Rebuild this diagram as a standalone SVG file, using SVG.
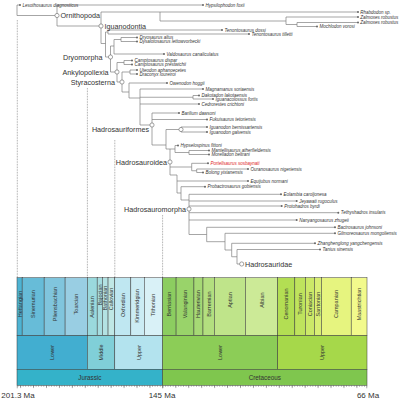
<svg xmlns="http://www.w3.org/2000/svg" width="400" height="400" viewBox="0 0 400 400">
<style>
.br{fill:none;stroke:#808080;stroke-width:0.7}
.dl{fill:none;stroke:#666;stroke-width:0.6;stroke-dasharray:0.8 0.8}
.tip{font-family:"Liberation Sans",Arial,sans-serif;font-style:italic;font-size:4.5px;fill:#333}
.red{fill:#e0201b}
.dot{fill:#666}
.nd{fill:#fff;stroke:#666;stroke-width:0.6}
.cl{font-family:"Liberation Sans",Arial,sans-serif;font-size:7.2px;fill:#333}
.bx{stroke:#3a3a3a;stroke-width:0.5}
.sl{font-family:"Liberation Sans",Arial,sans-serif;font-size:5.5px;fill:#333;text-anchor:middle}
.pl{font-family:"Liberation Sans",Arial,sans-serif;font-size:6.3px;fill:#333;text-anchor:middle}
.ax{font-family:"Liberation Sans",Arial,sans-serif;font-size:8px;fill:#333;text-anchor:middle}
</style>
<defs>
<pattern id="minor" patternUnits="userSpaceOnUse" x="17.526" y="385.3" width="2.5868" height="2"><rect x="0" y="0" width="0.5" height="1.6" fill="#555"/></pattern>
<pattern id="major" patternUnits="userSpaceOnUse" x="20.113" y="385.3" width="12.934" height="4"><rect x="0" y="0" width="0.5" height="3" fill="#555"/></pattern>
</defs>
<rect width="400" height="400" fill="#fff"/>

<g id="timescale">
<g id="stages" class="bx">
<rect x="17" y="277.7" width="5.17" height="58" fill="#4EB3D3"/>
<rect x="22.17" y="277.7" width="21.99" height="58" fill="#67BCD8"/>
<rect x="44.16" y="277.7" width="20.95" height="58" fill="#80C5DD"/>
<rect x="65.11" y="277.7" width="22.25" height="58" fill="#99CEE3"/>
<rect x="87.36" y="277.7" width="9.83" height="58" fill="#9AD9DD"/>
<rect x="97.19" y="277.7" width="5.17" height="58" fill="#A6DDE0"/>
<rect x="102.36" y="277.7" width="5.7" height="58" fill="#B3E2E3"/>
<rect x="108.06" y="277.7" width="6.72" height="58" fill="#BFE7E5"/>
<rect x="114.78" y="277.7" width="16.04" height="58" fill="#BFE7F1"/>
<rect x="130.82" y="277.7" width="13.45" height="58" fill="#CCECF4"/>
<rect x="144.27" y="277.7" width="18.37" height="58" fill="#D9F1F7"/>
<rect x="162.64" y="277.7" width="13.45" height="58" fill="#8CCD60"/>
<rect x="176.09" y="277.7" width="17.85" height="58" fill="#99D36A"/>
<rect x="193.94" y="277.7" width="9.05" height="58" fill="#A6D975"/>
<rect x="202.99" y="277.7" width="11.38" height="58" fill="#B3DF7F"/>
<rect x="214.37" y="277.7" width="31.04" height="58" fill="#BFE48A"/>
<rect x="245.41" y="277.7" width="32.34" height="58" fill="#CCEA97"/>
<rect x="277.75" y="277.7" width="17.07" height="58" fill="#B3DE53"/>
<rect x="294.82" y="277.7" width="10.61" height="58" fill="#BFE35D"/>
<rect x="305.43" y="277.7" width="9.05" height="58" fill="#CCE968"/>
<rect x="314.48" y="277.7" width="6.99" height="58" fill="#D9EF74"/>
<rect x="321.47" y="277.7" width="29.74" height="58" fill="#E6F47F"/>
<rect x="351.21" y="277.7" width="15.79" height="58" fill="#F2FA8C"/>
</g>
<g id="series" class="bx">
<rect x="17" y="335.7" width="70.36" height="33.6" fill="#42AED0"/>
<rect x="87.36" y="335.7" width="27.42" height="33.6" fill="#80CFD8"/>
<rect x="114.78" y="335.7" width="47.86" height="33.6" fill="#B3E3EE"/>
<rect x="162.64" y="335.7" width="115.11" height="33.6" fill="#8CCD57"/>
<rect x="277.75" y="335.7" width="89.25" height="33.6" fill="#A6D84A"/>
</g>
<g id="periods" class="bx">
<rect x="17" y="369.3" width="145.64" height="16" fill="#34B2C9"/>
<rect x="162.64" y="369.3" width="204.36" height="16" fill="#7FC64E"/>
</g>
<g id="stage-labels">
<text class="sl" transform="translate(19.6 304) rotate(-90)" dy="0.35em">Hettangian</text>
<text class="sl" transform="translate(33.2 304) rotate(-90)" dy="0.35em">Sinemurian</text>
<text class="sl" transform="translate(54.6 304) rotate(-90)" dy="0.35em">Pliensbachian</text>
<text class="sl" transform="translate(76.2 304) rotate(-90)" dy="0.35em">Toarcian</text>
<text class="sl" transform="translate(92.3 307) rotate(-90)" dy="0.35em">Aalenian</text>
<text class="sl" transform="translate(99.8 295) rotate(-90)" dy="0.35em">Bajocian</text>
<text class="sl" transform="translate(105.2 298) rotate(-90)" dy="0.35em">Bathonian</text>
<text class="sl" transform="translate(111.4 299) rotate(-90)" dy="0.35em">Callovian</text>
<text class="sl" transform="translate(122.8 305) rotate(-90)" dy="0.35em">Oxfordian</text>
<text class="sl" transform="translate(137.5 306) rotate(-90)" dy="0.35em">Kimmeridgian</text>
<text class="sl" transform="translate(153.5 305) rotate(-90)" dy="0.35em">Tithonian</text>
<text class="sl" transform="translate(169.4 304) rotate(-90)" dy="0.35em">Berriasian</text>
<text class="sl" transform="translate(185 304) rotate(-90)" dy="0.35em">Valanginian</text>
<text class="sl" transform="translate(198.5 304) rotate(-90)" dy="0.35em">Hauterivian</text>
<text class="sl" transform="translate(208.7 304) rotate(-90)" dy="0.35em">Barremian</text>
<text class="sl" transform="translate(229.9 300) rotate(-90)" dy="0.35em">Aptian</text>
<text class="sl" transform="translate(261.6 300) rotate(-90)" dy="0.35em">Albian</text>
<text class="sl" transform="translate(286.3 304) rotate(-90)" dy="0.35em">Cenomanian</text>
<text class="sl" transform="translate(300.1 304) rotate(-90)" dy="0.35em">Turonian</text>
<text class="sl" transform="translate(310 304) rotate(-90)" dy="0.35em">Coniacian</text>
<text class="sl" transform="translate(318 304) rotate(-90)" dy="0.35em">Santonian</text>
<text class="sl" transform="translate(336.3 304) rotate(-90)" dy="0.35em">Campanian</text>
<text class="sl" transform="translate(359.1 304) rotate(-90)" dy="0.35em">Maastrichtian</text>
</g>
<g id="series-labels">
<text class="sl" transform="translate(52.2 352.5) rotate(-90)" dy="0.35em">Lower</text>
<text class="sl" transform="translate(101.1 352.5) rotate(-90)" dy="0.35em">Middle</text>
<text class="sl" transform="translate(138.7 352.5) rotate(-90)" dy="0.35em">Upper</text>
<text class="sl" transform="translate(220.2 352.5) rotate(-90)" dy="0.35em">Lower</text>
<text class="sl" transform="translate(322.4 352.5) rotate(-90)" dy="0.35em">Upper</text>
</g>
<g id="period-labels">
<text class="pl" x="89.8" y="379.5">Jurassic</text>
<text class="pl" x="264.8" y="379.5">Cretaceous</text>
</g>
<g id="axis">
<rect x="17" y="385.3" width="350.3" height="1.6" fill="url(#minor)"/>
<rect x="17" y="385.3" width="350.3" height="3" fill="url(#major)"/>
<path d="M17.25 385.3v3M366.75 385.3v3M162.64 385.3v3" stroke="#555" stroke-width="0.5"/>
<text class="ax" x="18" y="398">201.3 Ma</text>
<text class="ax" x="162" y="398">145 Ma</text>
<text class="ax" x="368" y="398">66 Ma</text>
</g>
</g>

<g id="time-guides">
<path class="dl" d="M17.3 20V277.7M87.4 88V277.7M114.8 140V277.7M162.6 215V277.7"/>
</g>

<g id="connectors">
<path class="br" d="M17 5V15.5M17 5H20M17 15.5H57
M57 5V26M57 5H203M57 26H101
M101 12V43.5M101 12H358M160 12V21M160 21H286M286 17V24.5M286 17H358M286 24.5H297M297 22.5V26.5M297 22.5H358M297 26.5H317
M101 43.5H105.5M105.5 32V57M105.5 32H108M108 30V34M108 30H222M108 34H249
M105.5 57H110.5M110.5 46V72M110.5 46H114M114 39.5V54M114 39.5H121M121 37.5V41.5M121 37.5H137M121 41.5H137M114 54H164
M110.5 72H117M117 62.5V82M117 62.5H124M124 60.5V64.5M124 60.5H132M124 64.5H132
M117 82H122M122 72V92M122 72H130M130 70V74M130 70H137M130 74H137
M122 92H129M129 83V98M129 83H167M129 98H140
M140 89V125M140 89H203M140 97.25H193M193 95.5V99M193 95.5H199M193 99H213M140 104H199M140 125H152
M152 113V145M152 113H179M152 119.5H207M152 145H166
M166 129.5V149M166 129.5H181M181 127V132M181 127H207M181 132H207M166 149H175
M170 149V175
M175 145.5V152.5M175 145.5H178M175 152.5H189M189 150.5V154.5M189 150.5H209M189 154.5H209
M170 167H191.7M191.7 163.3V170.75M191.7 163.3H208M191.7 170.75H196.7M196.7 169V172.5M196.7 169H248M196.7 172.5H203
M170 175H177M177 175V193M177 181H248M177 193H181
M181 186.7V200M181 186.7H205M181 200H189
M189 194.3V234.5M189 194.3H281M189 201H296.7M189 206H281.7M189 212.7H338.3M189 220H296.7M189 234.5H206.7
M206.7 227.3V241.7M206.7 227.3H335M206.7 241.7H225
M225 233.3V250M225 233.3H335M225 250H231.7
M231.7 243.3V256.75M231.7 243.3H315M231.7 256.75H237
M237 249.5V264M237 249.5H320M237 264H240"/>
</g>

<g id="clades">
<g id="ornithopoda"><circle class="nd" cx="57" cy="15.5" r="2.1"/><text class="cl" x="60.5" y="18">Ornithopoda</text></g>
<g id="iguanodontia"><circle class="nd" cx="101" cy="26" r="2.1"/><text class="cl" x="104.5" y="28.6">Iguanodontia</text></g>
<g id="dryomorpha"><circle class="nd" cx="110.5" cy="57" r="2.1"/><text class="cl" x="102.5" y="59.6" text-anchor="end">Dryomorpha</text></g>
<g id="ankylopollexia"><circle class="nd" cx="117" cy="72" r="2.1"/><text class="cl" x="108.5" y="74.6" text-anchor="end">Ankylopollexia</text></g>
<g id="styracosterna"><circle class="nd" cx="122" cy="82" r="2.1"/><text class="cl" x="115" y="84.6" text-anchor="end">Styracosterna</text></g>
<g id="hadrosauriformes"><circle class="nd" cx="152" cy="125" r="2.1"/><text class="cl" x="149" y="131.6" text-anchor="end">Hadrosauriformes</text></g>
<g id="iguanodon-node"><circle class="nd" cx="181" cy="129.5" r="2.1"/></g>
<g id="hadrosauroidea"><circle class="nd" cx="170" cy="162" r="2.1"/><text class="cl" x="167" y="165" text-anchor="end">Hadrosauroidea</text></g>
<g id="hadrosauromorpha"><circle class="nd" cx="189" cy="209" r="2.1"/><text class="cl" x="186" y="211.8" text-anchor="end">Hadrosauromorpha</text></g>
<g id="hadrosauridae"><circle class="nd" cx="241.7" cy="264" r="2.1"/><text class="cl" x="245" y="266.7">Hadrosauridae</text></g>
</g>

<g id="taxa">
<g id="lesothosaurus"><circle class="dot" cx="20" cy="5" r="1"/><text class="tip" x="22.5" y="6.6">Lesothosaurus diagnosticus</text></g>
<g id="hypsilophodon"><circle class="dot" cx="203" cy="5" r="1"/><text class="tip" x="205.5" y="6.6">Hypsilophodon foxii</text></g>
<g id="rhabdodon"><circle class="dot" cx="358" cy="12" r="1"/><text class="tip" x="360.3" y="13.6">Rhabdodon sp.</text></g>
<g id="zalmoxes1"><circle class="dot" cx="358" cy="17" r="1"/><text class="tip" x="360.3" y="18.6">Zalmoxes robustus</text></g>
<g id="zalmoxes2"><circle class="dot" cx="358" cy="22.5" r="1"/><text class="tip" x="360.3" y="24.1">Zalmoxes robustus</text></g>
<g id="mochlodon"><circle class="dot" cx="317" cy="26.5" r="1"/><text class="tip" x="319.5" y="28.1">Mochlodon vorosi</text></g>
<g id="tenontosaurus-d"><circle class="dot" cx="222" cy="30" r="1"/><text class="tip" x="224.5" y="31.6">Tenontosaurus dossi</text></g>
<g id="tenontosaurus-t"><circle class="dot" cx="249" cy="34" r="1"/><text class="tip" x="251.5" y="35.6">Tenontosaurus tilletti</text></g>
<g id="dryosaurus"><circle class="dot" cx="137" cy="37.5" r="1"/><text class="tip" x="139.5" y="39.1">Dryosaurus altus</text></g>
<g id="dysalotosaurus"><circle class="dot" cx="137" cy="41.5" r="1"/><text class="tip" x="139.5" y="43.1">Dysalotosaurus lettowvorbecki</text></g>
<g id="valdosaurus"><circle class="dot" cx="164" cy="54" r="1"/><text class="tip" x="166.5" y="55.6">Valdosaurus canaliculatus</text></g>
<g id="camptosaurus-d"><circle class="dot" cx="132" cy="60.5" r="1"/><text class="tip" x="134.5" y="62.1">Camptosaurus dispar</text></g>
<g id="camptosaurus-p"><circle class="dot" cx="132" cy="64.5" r="1"/><text class="tip" x="134.5" y="66.1">Camptosaurus prestwichii</text></g>
<g id="uteodon"><circle class="dot" cx="137" cy="70" r="1"/><text class="tip" x="139.5" y="71.6">Uteodon aphanoecetes</text></g>
<g id="draconyx"><circle class="dot" cx="137" cy="74" r="1"/><text class="tip" x="139.5" y="75.6">Draconyx loureiroi</text></g>
<g id="owenodon"><circle class="dot" cx="167" cy="83" r="1"/><text class="tip" x="169.5" y="84.6">Owenodon hoggii</text></g>
<g id="magnamanus"><circle class="dot" cx="203" cy="89" r="1"/><text class="tip" x="205.5" y="90.6">Magnamanus soriaensis</text></g>
<g id="dakotadon"><circle class="dot" cx="199" cy="95.5" r="1"/><text class="tip" x="201.5" y="97.1">Dakotadon lakotaensis</text></g>
<g id="iguanacolossus"><circle class="dot" cx="213" cy="99" r="1"/><text class="tip" x="215.5" y="100.6">Iguanacolossus fortis</text></g>
<g id="cedrorestes"><circle class="dot" cx="199" cy="104" r="1"/><text class="tip" x="201.5" y="105.6">Cedrorestes crichtoni</text></g>
<g id="barilium"><circle class="dot" cx="179" cy="113" r="1"/><text class="tip" x="181.5" y="114.6">Barilium dawsoni</text></g>
<g id="fukuisaurus"><circle class="dot" cx="207" cy="119.5" r="1"/><text class="tip" x="209.5" y="121.1">Fukuisaurus tetoriensis</text></g>
<g id="iguanodon-b"><circle class="dot" cx="207" cy="127" r="1"/><text class="tip" x="209.5" y="128.6">Iguanodon bernissartensis</text></g>
<g id="iguanodon-g"><circle class="dot" cx="207" cy="132" r="1"/><text class="tip" x="209.5" y="133.6">Iguanodon galvensis</text></g>
<g id="hypselospinus"><circle class="dot" cx="178" cy="145.5" r="1"/><text class="tip" x="180.5" y="147.1">Hypselospinus fittoni</text></g>
<g id="mantellisaurus"><circle class="dot" cx="209" cy="150.5" r="1"/><text class="tip" x="211.5" y="152.1">Mantellisaurus atherfieldensis</text></g>
<g id="morelladon"><circle class="dot" cx="209" cy="154.5" r="1"/><text class="tip" x="211.5" y="156.1">Morelladon beltrani</text></g>
<g id="portellsaurus"><circle class="dot" cx="208" cy="163.3" r="1"/><text class="tip red" x="210.5" y="164.9">Portellsaurus sosbaynati</text></g>
<g id="ouranosaurus"><circle class="dot" cx="248" cy="169" r="1"/><text class="tip" x="250.5" y="170.6">Ouranosaurus nigeriensis</text></g>
<g id="bolong"><circle class="dot" cx="203" cy="172.5" r="1"/><text class="tip" x="205.5" y="174.1">Bolong yixianensis</text></g>
<g id="equijubus"><circle class="dot" cx="248" cy="181" r="1"/><text class="tip" x="250.5" y="182.6">Equijubus normani</text></g>
<g id="probactrosaurus"><circle class="dot" cx="205" cy="186.7" r="1"/><text class="tip" x="207.5" y="188.3">Probactrosaurus gobiensis</text></g>
<g id="eolambia"><circle class="dot" cx="281" cy="194.3" r="1"/><text class="tip" x="283.5" y="195.9">Eolambia caroljonesa</text></g>
<g id="jeyawati"><circle class="dot" cx="296.7" cy="201" r="1"/><text class="tip" x="299.2" y="202.6">Jeyawati rugoculus</text></g>
<g id="protohadros"><circle class="dot" cx="281.7" cy="206" r="1"/><text class="tip" x="284.2" y="207.6">Protohadros byrdi</text></g>
<g id="tethyshadros"><circle class="dot" cx="338.3" cy="212.7" r="1"/><text class="tip" x="340.8" y="214.3">Tethyshadros insularis</text></g>
<g id="nanyangosaurus"><circle class="dot" cx="296.7" cy="220" r="1"/><text class="tip" x="299.2" y="221.6">Nanyangosaurus zhugeii</text></g>
<g id="bactrosaurus"><circle class="dot" cx="335" cy="227.3" r="1"/><text class="tip" x="337.5" y="228.9">Bactrosaurus johnsoni</text></g>
<g id="gilmoreosaurus"><circle class="dot" cx="335" cy="233.3" r="1"/><text class="tip" x="337.5" y="234.9">Gilmoreosaurus mongoliensis</text></g>
<g id="zhanghenglong"><circle class="dot" cx="315" cy="243.3" r="1"/><text class="tip" x="317.5" y="244.9">Zhanghenglong yangchengensis</text></g>
<g id="tanius"><circle class="dot" cx="320" cy="249.5" r="1"/><text class="tip" x="322.5" y="251.1">Tanius sinensis</text></g>
</g>
</svg>
